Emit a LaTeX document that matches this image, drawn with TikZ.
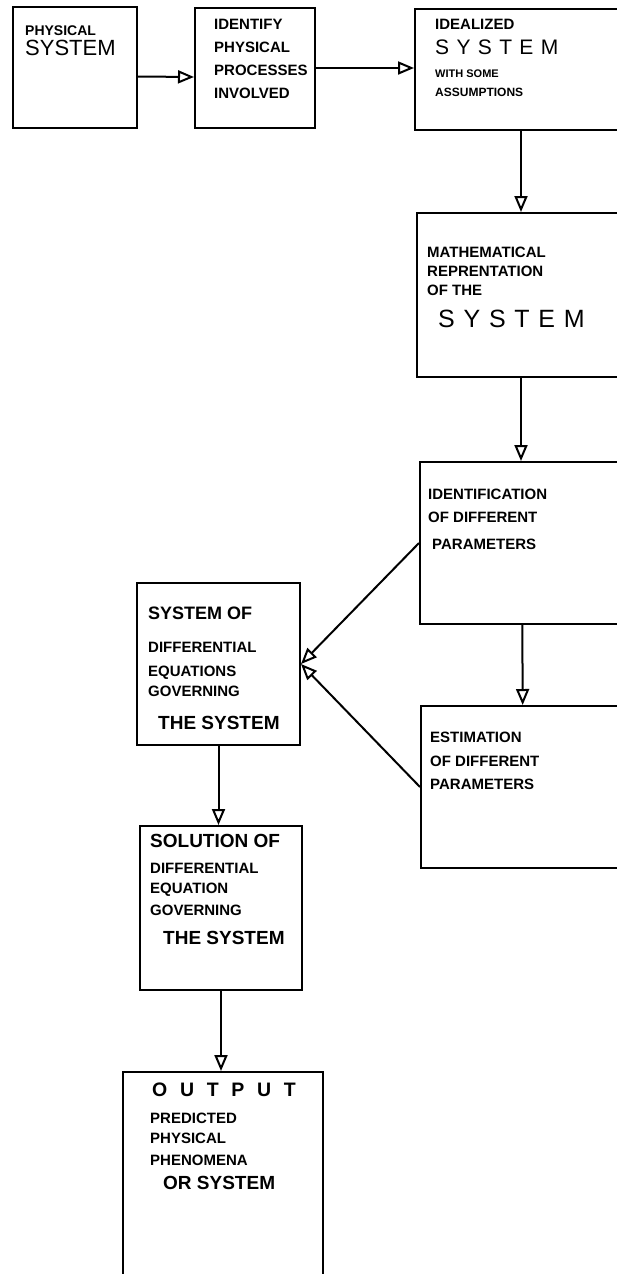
\documentclass[tikz,border=0pt]{standalone}
\usepackage{fontspec}
\setmainfont{Liberation Sans}
\newfontfamily\plotfont[LetterSpace=35]{Liberation Sans}
\newfontfamily\wideface[LetterSpace=65]{Liberation Sans}
\usetikzlibrary{
    arrows.meta,
    positioning
}
\newcommand{\sz}[1]{\fontsize{#1}{#1}\selectfont}
\tikzset{
  blk/.style 2 args = {draw, line width=2pt, inner sep=0pt,
                       minimum width=#1, minimum height=#2},
  txt/.style     = {anchor=north west, inner sep=0pt, align=left,
                    font=\bfseries\fontsize{15}{#1}\selectfont},
  txt/.default   = 20,
  arr/.style     = {-{Triangle[open, length=16pt, width=13pt]}, line width=2pt}
}

\begin{document}
\begin{tikzpicture}[x=1pt, y=-1pt]
    \useasboundingbox (0,0) rectangle (617,1274);
    \fill[white] (0,0) rectangle (617,1274);
    \clip (0,0) rectangle (617,1274);
    % Top row
    \node[blk={124pt}{121pt}] (phys)  at (75,67.5)  {};
    \node[blk={120pt}{120pt}] (ident) at (255,68)   {};
    \node[blk={212pt}{121pt}] (ideal) at (521,69.5) {};
    % Right column
    \node[blk={208pt}{164pt}] (math)   at (521,295) {};
    \node[blk={204pt}{162pt}] (idpar)  at (522,543) {};
    \node[blk={204pt}{162pt}] (estpar) at (523,787) {};
    % Left column
    \node[blk={163pt}{162pt}] (odes)  at (218.5,664) {};
    \node[blk={162pt}{164pt}] (solve) at (221,908)   {};
    \node[blk={200pt}{228pt}] (out)   at (223,1186)  {};

    % Box texts
    \node[txt=20] (physT) at (25,25.5)
        {{\sz{14}PHYSICAL}\\{\mdseries\sz{22}SYSTEM}};
    \node[txt=23] (identT) at (214,19.3)
        {IDENTIFY\\PHYSICAL\\PROCESSES\\INVOLVED};
    \node[txt=19] (idealT) at (435,19.3)
        {IDEALIZED\\[6pt]{\plotfont\mdseries\sz{21}SYSTEM}\\[4pt]%
         {\sz{11}WITH SOME}\\{\sz{12}ASSUMPTIONS}};
    \node[txt=19] (mathT) at (427,247.3)
        {MATHEMATICAL\\REPRENTATION\\OF THE\\[13pt]%
         \hspace*{11pt}{\plotfont\mdseries\sz{25}SYSTEM}};
    \node[txt=23] (idparT) at (428,489.3)
        {IDENTIFICATION\\OF DIFFERENT\\[4pt]\hspace*{4pt}PARAMETERS};
    \node[txt=23.5] (estparT) at (430,732.3)
        {ESTIMATION\\OF DIFFERENT\\PARAMETERS};
    \node[txt] (odesT) at (148,607.1)
        {{\sz{18}SYSTEM OF}\\[13pt]DIFFERENTIAL\\[4pt]EQUATIONS\\GOVERNING\\[13pt]%
         \hspace*{10pt}{\sz{19}THE SYSTEM}};
    \node[txt] (solveT) at (150,834.4)
        {{\sz{19}SOLUTION OF}\\[6pt]DIFFERENTIAL\\EQUATION\\[2pt]GOVERNING\\[9pt]%
         \hspace*{13pt}{\sz{19}THE SYSTEM}};
    \node[txt] (outT) at (150,1083)
        {\hspace*{2pt}{\wideface\sz{19.5}OUTPUT}\\[7pt]PREDICTED\\PHYSICAL\\[2pt]%
         PHENOMENA\\[4pt]\hspace*{13pt}{\sz{19}OR SYSTEM}};

    \draw[arr] ([yshift=-9pt]phys.east) -- ([yshift=-9pt]ident.west);
    \draw[arr] (ident.east) -- (ident.east -| ideal.west);
    \draw[arr] (ideal) -- (math);
    \draw[arr] (math.south) -- (math.south |- idpar.north);
    \draw[arr] (idpar) -- (estpar);
    \draw[arr] (idpar.west) -- (odes.east);
    \draw[arr] (estpar.west) -- (odes.east);
    \draw[arr] (odes.south) -- (odes.south |- solve.north);
    \draw[arr] (solve.south) -- (solve.south |- out.north);
\end{tikzpicture}
\end{document}
